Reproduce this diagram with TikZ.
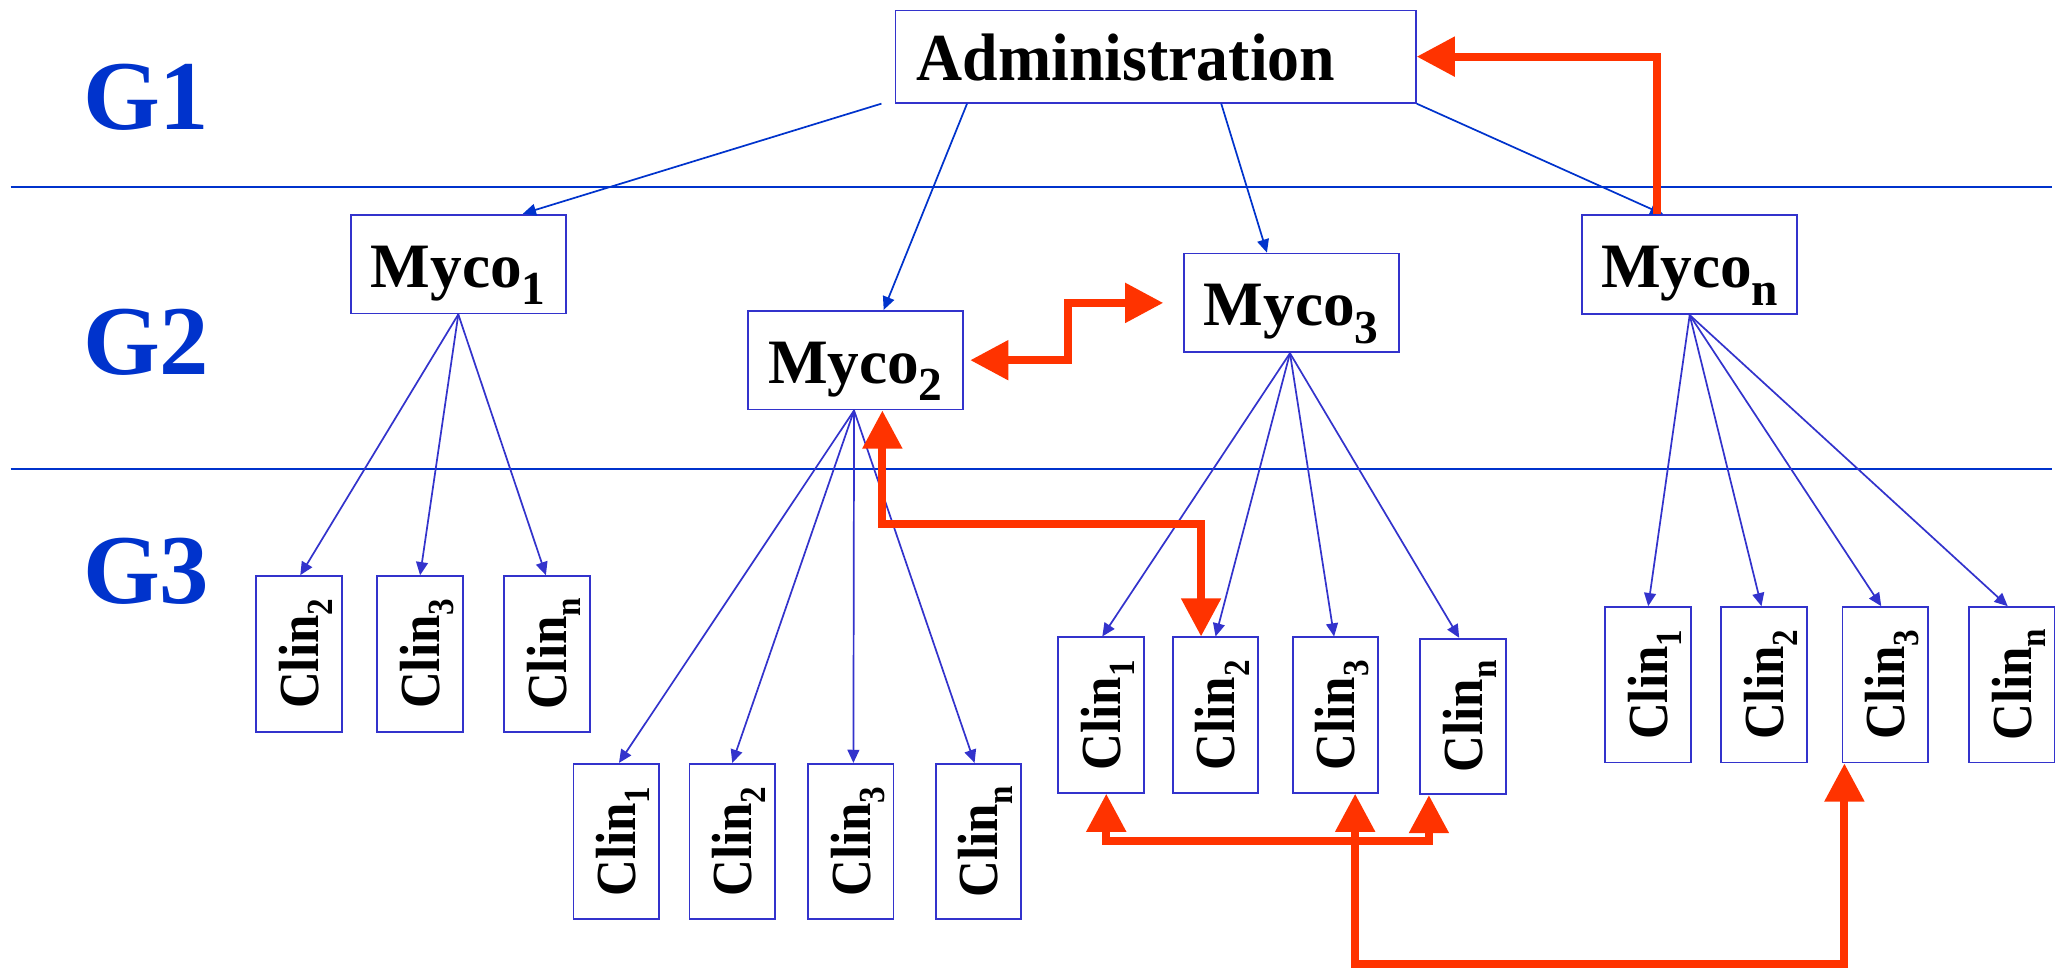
\documentclass[tikz,border=0pt]{standalone}
\usepackage{fontspec}
\setmainfont{Liberation Serif}
\usepackage{graphicx}
\usetikzlibrary{arrows.meta}
\definecolor{boxblue}{HTML}{3333CC}
\definecolor{lineblue}{HTML}{0033CC}
\definecolor{arrred}{HTML}{FF3300}
\newcommand\subsc[3]{\raisebox{-#2em}[0pt][0pt]{\scalebox{#1}{#3}}}
\newcommand\mysub[1]{\subsc{0.75}{0.28}{#1}}
\newcommand\clsub[1]{\subsc{0.65}{0.25}{#1}}
\newcommand\clin[1]{\rotatebox{90}{\scalebox{0.9}[1]{Clin\clsub{#1}}}}
\begin{document}
\begin{tikzpicture}[x=1pt,y=-1pt,
  box/.style={draw=boxblue,line width=1.4pt,fill=white,inner sep=0pt},
  adminbox/.style={box,minimum width=395pt,minimum height=70pt,
    font=\fontsize{51}{54}\selectfont\bfseries,text height=37pt,text depth=0pt},
  mycobox/.style={box,minimum width=163pt,minimum height=75pt,
    font=\fontsize{48}{50}\selectfont\bfseries,text height=35pt,text depth=0pt},
  clinbox/.style={box,minimum width=65pt,minimum height=118pt,
    font=\fontsize{43}{46}\selectfont\bfseries},
  glabel/.style={anchor=base,text=lineblue,inner sep=0pt,
    font=\fontsize{75}{80}\selectfont\bfseries},
  toparr/.style={draw=lineblue,line width=1.3pt,-{Triangle[length=10pt,width=9pt]}},
  botarr/.style={draw=boxblue,line width=1.3pt,-{Triangle[length=10pt,width=9pt]}},
  divider/.style={draw=lineblue,line width=1.5pt},
  redline/.style={draw=arrred,line width=6pt},
  redone/.style={redline,-{Triangle[length=29pt,width=29pt]}},
  redtwo/.style={redline,{Triangle[length=29pt,width=29pt]}-{Triangle[length=29pt,width=29pt]}}
]
\fill[white] (0,0) rectangle (1568,735);
\useasboundingbox (0,0) rectangle (1568,735);

% dividers
\coordinate (d1a) at (8,142);
\coordinate (d1b) at (1558,142);
\coordinate (d2a) at (8,356);
\coordinate (d2b) at (1558,356);
\draw[divider] (d1a) -- (d1b);
\draw[divider] (d2a) -- (d2b);

% level labels
\node[glabel] (g1) at (111,98) {G1};
\node[glabel] (g2) at (111,284) {G2};
\node[glabel] (g3) at (111,458) {G3};

% boxes
\node[adminbox] (admin) at (877.5,43) {\scalebox{0.95}[1]{Administration}\hspace*{45pt}};
\node[mycobox] (myco1) at (348,200.5) {Myco\mysub{1}};
\node[mycobox] (myco2) at (649.5,273.5) {Myco\mysub{2}};
\node[mycobox] (myco3) at (980.5,230) {Myco\mysub{3}};
\node[mycobox] (mycon) at (1283,201) {Myco\mysub{n}};

\node[clinbox] (g1c2) at (227,496.5) {\clin{2}};
\node[clinbox] (g1c3) at (319,496.5) {\clin{3}};
\node[clinbox] (g1cn) at (415.5,496.5) {\clin{n}};

\node[clinbox] (g2c1) at (468,639) {\clin{1}};
\node[clinbox] (g2c2) at (556,639) {\clin{2}};
\node[clinbox] (g2c3) at (646,639) {\clin{3}};
\node[clinbox] (g2cn) at (743,639) {\clin{n}};

\node[clinbox] (g3c1) at (836,543) {\clin{1}};
\node[clinbox] (g3c2) at (923,543) {\clin{2}};
\node[clinbox] (g3c3) at (1014,543) {\clin{3}};
\node[clinbox] (g3cn) at (1111,544) {\clin{n}};

\node[clinbox] (g4c1) at (1251.5,520) {\clin{1}};
\node[clinbox] (g4c2) at (1339.5,520) {\clin{2}};
\node[clinbox] (g4c3) at (1431.5,520) {\clin{3}};
\node[clinbox] (g4cn) at (1527.5,520) {\clin{n}};

% administration to mycos
\draw[toparr] ([xshift=-10pt]admin.south west) -- ([xshift=49pt]myco1.north);
\draw[toparr] ([xshift=55pt]admin.south west) -- ([xshift=21.5pt]myco2.north);
\draw[toparr] ([xshift=248pt]admin.south west) -- ([xshift=-18.5pt]myco3.north);
\draw[toparr] (admin.south east) -- ([xshift=-20pt]mycon.north);

% mycos to clins
\draw[botarr] (myco1.south) -- ([xshift=1pt]g1c2.north);
\draw[botarr] (myco1.south) -- (g1c3.north);
\draw[botarr] (myco1.south) -- ([xshift=-1pt]g1cn.north);

\draw[botarr] ([xshift=-1pt]myco2.south) -- ([xshift=2pt]g2c1.north);
\draw[botarr] ([xshift=-1pt]myco2.south) -- (g2c2.north);
\draw[botarr] ([xshift=-1pt]myco2.south) -- ([xshift=2pt]g2c3.north);
\draw[botarr] ([xshift=-1pt]myco2.south) -- ([xshift=-3pt]g2cn.north);

\draw[botarr] ([xshift=-1pt]myco3.south) -- ([xshift=1pt]g3c1.north);
\draw[botarr] ([xshift=-1pt]myco3.south) -- (g3c2.north);
\draw[botarr] ([xshift=-1pt]myco3.south) -- ([xshift=-1pt]g3c3.north);
\draw[botarr] ([xshift=-1pt]myco3.south) -- ([xshift=-3pt]g3cn.north);

\draw[botarr] (mycon.south) -- (g4c1.north);
\draw[botarr] (mycon.south) -- ([xshift=-2pt]g4c2.north);
\draw[botarr] (mycon.south) -- ([xshift=-3pt]g4c3.north);
\draw[botarr] (mycon.south) -- ([xshift=-3pt]g4cn.north);

% red links
\draw[redone] ([xshift=-25pt]mycon.north) |- (admin.east);

\coordinate (r2a) at ([xshift=5pt]myco2.east);
\coordinate (r2b) at ([xshift=-15pt]myco3.west);
\draw[redtwo] (r2a) -- ++(74,0) |- (r2b);

\coordinate (r3a) at ([xshift=20.5pt]myco2.south);
\coordinate (r3b) at ([xshift=-11pt]g3c2.north);
\draw[redtwo] (r3a) -- ++(0,86) -| (r3b);

\coordinate (r4a) at ([xshift=4pt]g3c1.south);
\coordinate (r4b) at ([xshift=-26pt]g3cn.south);
\coordinate (r4c) at ([xshift=15pt]g3c3.south);
\coordinate (r4d) at ([xshift=-31pt]g4c3.south);
\draw[redtwo] (r4a) -- ++(0,36) -| (r4b);
\draw[redtwo] (r4c) -- ++(0,129) -| (r4d);
\end{tikzpicture}
\end{document}
